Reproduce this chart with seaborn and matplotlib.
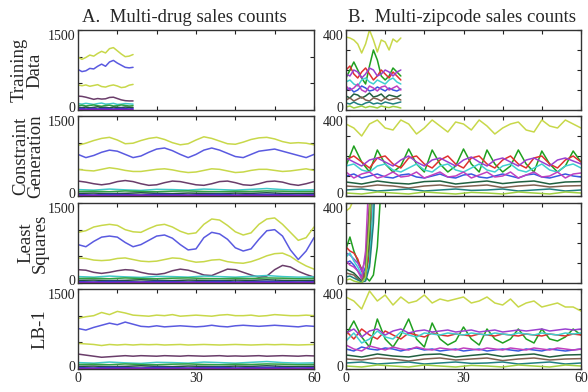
import numpy as np
import pandas as pd
import matplotlib
matplotlib.use("Agg")
import matplotlib.pyplot as plt
import matplotlib.transforms as mtransforms
import seaborn as sns

# ---- values ----
# left column: drug sales (main lines: yellow, blue, yellow, purple)
drug_train = [
    [990, 950, 985, 1030, 1010, 1060, 1100, 1070, 1150, 1170, 1110, 1050, 1000, 1010, 1040],
    [760, 720, 735, 780, 770, 820, 860, 820, 900, 930, 880, 840, 800, 790, 800],
    [470, 455, 470, 445, 460, 475, 440, 430, 455, 470, 450, 420, 430, 465, 480],
    [260, 255, 240, 220, 200, 215, 205, 210, 235, 240, 215, 190, 175, 170, 170],
    [120, 110, 125, 115, 105, 120, 130, 110, 115, 125, 105, 110, 120, 115, 110],
    [80, 90, 75, 85, 95, 80, 70, 85, 90, 75, 80, 95, 85, 75, 80],
    [50, 45, 55, 40, 50, 60, 45, 50, 40, 55, 50, 45, 55, 50, 45],
    [25, 30, 20, 25, 30, 20, 25, 30, 25, 20, 25, 30, 25, 20, 25],
    [8, 10, 6, 9, 12, 7, 8, 10, 9, 6, 8, 11, 7, 9, 8],
]
drug_cg = [
    [950, 990, 1040, 1080, 1100, 1050, 980, 990, 1040, 1080, 1100, 1060, 1000, 960, 980, 1050,
     1110, 1080, 1030, 980, 970, 1010, 1060, 1090, 1100, 1070, 1020, 990, 1000, 990, 960],
    [780, 720, 760, 820, 860, 840, 780, 720, 750, 820, 880, 900, 850, 780, 720, 780,
     860, 900, 860, 800, 740, 720, 780, 840, 860, 880, 840, 800, 760, 720, 780],
    [500, 480, 470, 500, 530, 510, 480, 460, 460, 480, 500, 510, 490, 460, 440, 450,
     480, 510, 500, 470, 440, 450, 480, 500, 500, 480, 460, 470, 490, 510, 480],
    [280, 260, 230, 210, 230, 270, 290, 270, 230, 200, 210, 250, 280, 270, 240, 210,
     200, 230, 270, 280, 250, 210, 200, 230, 270, 280, 260, 220, 200, 230, 270],
]
drug_ls = [
    [950, 980, 1050, 1080, 1100, 1080, 1000, 960, 950, 1020, 1080, 1100, 1050, 970, 920, 940,
     1100, 1200, 1180, 1080, 960, 900, 940, 1100, 1200, 1220, 1100, 950, 800, 850, 1050],
    [720, 680, 780, 860, 880, 860, 760, 680, 720, 800, 880, 900, 840, 720, 620, 640,
     850, 950, 920, 820, 660, 600, 640, 820, 980, 1000, 880, 620, 440, 600, 850],
    [470, 460, 430, 420, 430, 460, 470, 440, 410, 400, 410, 440, 470, 460, 420, 390,
     400, 430, 440, 400, 380, 370, 400, 450, 510, 550, 560, 500, 400, 320, 260],
    [250, 240, 200, 180, 200, 230, 250, 240, 200, 170, 160, 180, 230, 260, 240, 200,
     150, 140, 200, 260, 250, 200, 150, 110, 130, 250, 330, 300, 220, 160, 110],
]
drug_lb1 = [
    [950, 980, 1000, 1060, 1020, 1080, 1050, 1010, 1000, 990, 1010, 1000, 1020, 990, 1000, 1010,
     1000, 990, 1010, 1020, 1000, 1000, 1010, 990, 1000, 1020, 1010, 1000, 1000, 1010, 1000],
    [760, 730, 780, 820, 860, 830, 880, 840, 800, 790, 810, 790, 800, 810, 800, 790,
     800, 820, 800, 790, 810, 820, 810, 800, 810, 820, 810, 800, 790, 810, 800],
    [480, 470, 460, 440, 460, 450, 460, 450, 460, 455, 460, 450, 455, 460, 450, 455,
     460, 455, 450, 455, 460, 455, 450, 455, 460, 455, 460, 455, 450, 455, 460],
    [280, 260, 240, 220, 230, 240, 250, 240, 250, 245, 240, 250, 245, 240, 250, 245,
     240, 245, 250, 240, 245, 240, 245, 250, 240, 245, 250, 245, 240, 250, 245],
]
# low bundle of drug lines (x = 0, 4, ..., 60)
drug_low = [
    [120, 110, 130, 115, 105, 125, 120, 110, 130, 120, 110, 125, 140, 120, 110, 115],
    [85, 90, 80, 95, 85, 80, 90, 95, 85, 80, 90, 85, 95, 90, 80, 85],
    [50, 55, 45, 50, 60, 50, 45, 55, 50, 45, 55, 50, 60, 50, 45, 50],
    [25, 20, 30, 25, 20, 30, 25, 20, 25, 30, 20, 25, 30, 25, 20, 25],
    [8, 10, 6, 9, 12, 7, 8, 10, 9, 6, 8, 11, 7, 9, 8, 10],
]

# right column: zipcode sales
zip_train = [
    [365, 360, 350, 330, 285, 330, 400, 350, 290, 350, 340, 300, 355, 340, 360],
    [160, 200, 240, 200, 160, 130, 220, 300, 250, 170, 150, 170, 210, 190, 170],
    [200, 220, 180, 160, 190, 210, 180, 150, 170, 200, 180, 160, 190, 170, 150],
    [180, 170, 200, 190, 160, 180, 210, 200, 170, 180, 200, 190, 170, 190, 200],
    [140, 150, 130, 120, 150, 160, 140, 130, 150, 140, 130, 150, 160, 140, 130],
    [100, 110, 90, 100, 120, 110, 95, 100, 115, 105, 95, 110, 100, 95, 105],
    [120, 100, 110, 130, 100, 90, 120, 110, 95, 115, 120, 100, 110, 120, 100],
    [70, 60, 80, 75, 60, 70, 85, 65, 70, 80, 60, 75, 70, 65, 75],
    [50, 60, 45, 55, 65, 50, 45, 60, 55, 45, 60, 50, 55, 60, 50],
    [35, 30, 40, 30, 25, 35, 40, 30, 35, 30, 40, 35, 30, 35, 40],
    [15, 20, 10, 15, 20, 12, 18, 15, 10, 20, 15, 12, 18, 15, 10],
]
zip_cg = [
    [360, 340, 300, 360, 380, 340, 330, 380, 360, 310, 340, 380, 350, 320, 370, 360,
     330, 380, 350, 310, 340, 360, 370, 330, 320, 380, 350, 340, 380, 360, 340],
    [150, 250, 170, 120, 230, 160, 120, 150, 235, 160, 120, 230, 160, 120, 150, 235,
     160, 120, 230, 160, 120, 150, 230, 160, 120, 225, 160, 120, 150, 225, 170],
    [180, 200, 170, 140, 190, 200, 160, 140, 190, 200, 160, 140, 180, 200, 160, 140,
     190, 200, 160, 140, 180, 200, 160, 140, 190, 200, 160, 140, 180, 200, 170],
    [190, 170, 150, 180, 190, 170, 150, 180, 200, 170, 150, 180, 190, 170, 150, 180,
     195, 170, 150, 180, 190, 170, 150, 180, 190, 170, 150, 180, 190, 175, 160],
    [150, 160, 130, 120, 150, 160, 130, 120, 140, 160, 130, 120, 150, 160, 130, 120,
     140, 160, 130, 120, 150, 160, 130, 120, 140, 160, 130, 120, 150, 160, 140],
    [100, 110, 90, 100, 110, 95, 90, 105, 110, 95, 90, 100, 110, 95, 90, 105,
     110, 95, 90, 100, 110, 100, 90, 105, 110, 95, 90, 100, 110, 100, 95],
    [120, 90, 110, 120, 90, 100, 120, 95, 100, 120, 90, 105, 120, 95, 100, 120,
     90, 105, 120, 95, 100, 120, 90, 105, 120, 95, 100, 120, 90, 110, 115],
]
zip_ls = [
    [360, 375, 420, 520],
    [170, 230, 160, 110, 70, 30, 10, 40, 180, 500, 900],
    [180, 160, 150, 120, 60, 20, 150, 450, 900],
    [150, 140, 120, 100, 60, 120, 380, 900],
    [130, 150, 110, 80, 40, 15, 100, 420, 900],
    [100, 110, 90, 60, 30, 80, 350, 900],
    [110, 90, 80, 60, 20, 160, 600],
    [70, 60, 50, 30, 10, 30, 220, 700],
    [50, 45, 40, 20, 5, 60, 400, 900],
    [30, 35, 25, 15, 5, 10, 80, 300, 800],
    [15, 20, 10, 5, 0, 30, 300, 900],
]
zip_lb1 = [
    [360, 340, 300, 390, 340, 370, 320, 360, 330, 340, 370, 330, 350, 340, 350, 360,
     330, 340, 360, 330, 320, 350, 310, 330, 340, 310, 320, 330, 310, 310, 290],
    [170, 240, 160, 110, 250, 150, 110, 170, 250, 150, 110, 230, 150, 120, 140, 210,
     150, 120, 200, 150, 130, 150, 200, 150, 130, 200, 150, 140, 160, 200, 170],
    [190, 150, 200, 170, 150, 190, 170, 150, 180, 170, 160, 180, 170, 165, 175, 170,
     165, 175, 170, 165, 175, 170, 165, 175, 170, 165, 175, 170, 165, 175, 170],
    [180, 200, 160, 190, 200, 170, 190, 200, 180, 190, 195, 185, 190, 195, 185, 190,
     195, 185, 190, 195, 185, 190, 195, 190, 195, 200, 190, 195, 200, 195, 200],
    [140, 180, 130, 150, 190, 160, 150, 185, 170, 160, 180, 175, 170, 180, 175, 170,
     180, 175, 170, 180, 175, 170, 180, 175, 170, 180, 175, 170, 180, 175, 180],
    [100, 90, 110, 100, 95, 105, 100, 90, 100, 105, 95, 100, 90, 95, 100, 90,
     95, 100, 90, 95, 100, 95, 90, 100, 95, 90, 100, 95, 90, 95, 100],
    [120, 100, 90, 115, 105, 95, 110, 100, 95, 110, 100, 95, 105, 100, 95, 105,
     100, 95, 105, 100, 95, 105, 100, 95, 105, 100, 95, 105, 100, 95, 100],
]
# low bundle of zipcode lines (x = 0, 4, ..., 60)
zip_low = [
    [70, 60, 75, 65, 60, 72, 75, 60, 68, 75, 62, 70, 75, 60, 70, 72],
    [50, 45, 55, 50, 40, 50, 55, 45, 50, 55, 42, 50, 55, 45, 50, 52],
    [30, 35, 25, 30, 35, 25, 30, 35, 28, 30, 35, 25, 30, 35, 25, 30],
    [15, 10, 20, 15, 10, 20, 15, 10, 18, 15, 10, 20, 15, 10, 20, 15],
]

row_labels = ["Training\nData", "Constraint\nGeneration", "Least\nSquares", "LB-1"]
col_titles = ["A.  Multi-drug sales counts", "B.  Multi-zipcode sales counts"]
x_ticks = [0, 10, 20, 30, 40, 50, 60]
x_ticklabels = ["0", "", "", "30", "", "", "60"]

drug_colors = ["#c8d84a", "#5a5ae0", "#c8d84a", "#6a3d6a",
               "#40c8c8", "#30a040", "#1f5040", "#3a3ad0", "#8a20c0"]
zip_colors = ["#c8d84a", "#20a020", "#e03030", "#9a40d0", "#40d0d0", "#3858e0",
              "#c040c0", "#206040", "#806050", "#208080", "#a0d040"]

sns.set_style("ticks")
plt.rcParams["font.family"] = ["Liberation Serif", "DejaVu Serif"]

W, H = 588, 392
fig = plt.figure(figsize=(W / 100, H / 100), dpi=100)


def draw(ax, series, colors, span=None):
    parts = []
    for i, vals in enumerate(series):
        xs = np.linspace(0, span, len(vals)) if span else np.arange(len(vals))
        parts.append(pd.DataFrame({"x": xs, "y": vals, "s": i}))
    df = pd.concat(parts, ignore_index=True)
    sns.lineplot(data=df, x="x", y="y", hue="s", palette=colors[:len(series)],
                 legend=False, estimator=None, sort=False, lw=1.1, ax=ax)


def style(ax, ymax, yticks, bottom):
    ax.set_xlim(0, 60)
    ax.set_ylim(0, ymax)
    ax.set_xticks(x_ticks)
    ax.set_xticklabels(x_ticklabels if bottom else [""] * len(x_ticks))
    ax.set_yticks(yticks)
    ax.set_yticklabels(["0"] + [""] * (len(yticks) - 2) + [str(ymax)])
    ax.tick_params(direction="in", length=3, top=True, right=True,
                   labelsize=10, pad=2, colors="#222222")
    # nudge the stacked 0 / max labels of neighbouring panels apart
    ticks = ax.yaxis.get_major_ticks()
    up = mtransforms.ScaledTranslation(0, 2 / 72, fig.dpi_scale_trans)
    lab0 = ticks[0].label1
    lab0.set_transform(lab0.get_transform() + up)
    ticks[-1].label1.set_verticalalignment("top")
    ax.set_xlabel("")
    ax.set_ylabel("")
    for sp in ax.spines.values():
        sp.set_color("#333333")
        sp.set_linewidth(1.0)


tops = [30, 116, 203, 289]
ax_h = 80

for r in range(4):
    y0 = 1 - (tops[r] + ax_h) / H
    axl = fig.add_axes([78 / W, y0, 236 / W, ax_h / H])
    axr = fig.add_axes([346 / W, y0, 235 / W, ax_h / H])

    # left column
    if r == 0:
        draw(axl, drug_train, drug_colors)
    else:
        main = [drug_cg, drug_ls, drug_lb1][r - 1]
        draw(axl, main + drug_low, drug_colors, span=60)
    style(axl, 1500, [0, 500, 1000, 1500], r == 3)

    # right column
    if r == 0:
        draw(axr, zip_train, zip_colors)
    elif r == 2:
        draw(axr, zip_ls, zip_colors)
    else:
        main = zip_cg if r == 1 else zip_lb1
        draw(axr, main + zip_low, zip_colors, span=60)
    style(axr, 400, [0, 100, 200, 300, 400], r == 3)

label_x = [27, 28, 33, 40]
for r, lab in enumerate(row_labels):
    fig.text(label_x[r] / W, 1 - (tops[r] + ax_h / 2) / H, lab, rotation=90,
             ha="center", va="center", fontsize=13.5, linespacing=0.85,
             multialignment="center")

fig.text(184 / W, 1 - 17 / H, col_titles[0], ha="center", va="center", fontsize=13.5)
fig.text(462 / W, 1 - 17 / H, col_titles[1], ha="center", va="center", fontsize=13.5)

fig.savefig("out.png", dpi=100)
